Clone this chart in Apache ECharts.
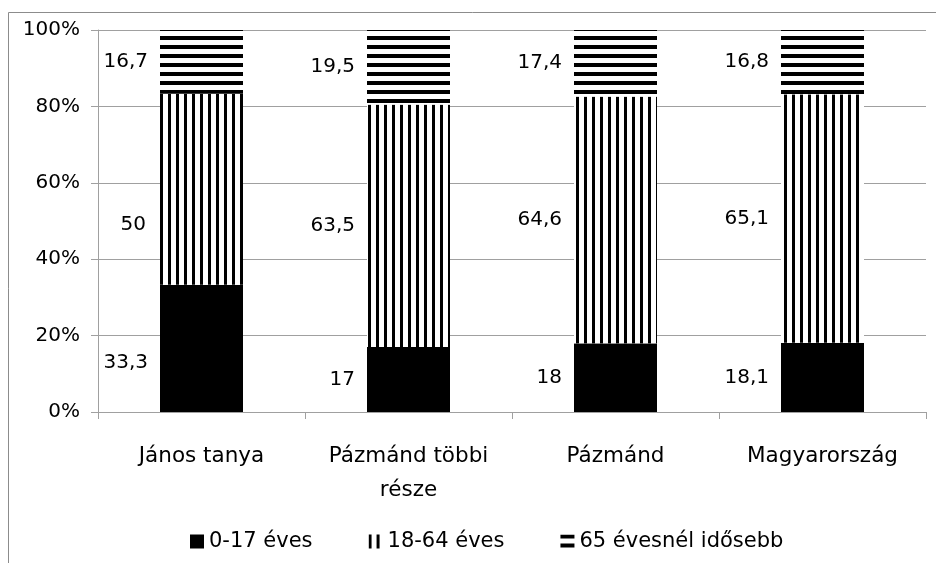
<!DOCTYPE html>
<html>
<head>
<meta charset="utf-8">
<script src="https://cdn.jsdelivr.net/npm/echarts@6/dist/echarts.min.js"></script>
<style>
html,body{margin:0;padding:0;background:#fff;}
#chart{width:936px;height:563px;}
</style>
</head>
<body>
<div id="chart"></div>
<script>
var categories = ['János tanya', 'Pázmánd többi\nrésze', 'Pázmánd', 'Magyarország'];
var seriesNames = ['0-17 éves', '18-64 éves', '65 évesnél idősebb'];
var young = [33.3, 17, 18, 18.1];
var working = [50, 63.5, 64.6, 65.1];
var old = [16.7, 19.5, 17.4, 16.8];
var yTicks = [0, 20, 40, 60, 80, 100];

var FONT = 'DejaVu Sans';
var FS = 20;

var chart = echarts.init(document.getElementById('chart'), null, {renderer: 'canvas'});

function fmt(p) {
  return String(p.value).replace('.', ',');
}

function labelCfg() {
  return {
    show: true,
    position: 'left',
    distance: 12,
    color: '#000',
    fontFamily: FONT,
    fontSize: FS,
    formatter: fmt
  };
}

// manual label nudges (as in the original, where some labels were moved by hand)
function withNudge(values, nudges) {
  return values.map(function (v, i) {
    if (nudges[i]) {
      return {value: v, label: {offset: nudges[i]}};
    }
    return v;
  });
}

var option = {
  animation: false,
  backgroundColor: '#fff',
  textStyle: {fontFamily: FONT, fontSize: FS, color: '#000'},
  graphic: [{
    type: 'rect',
    shape: {x: 8.5, y: 12.5, width: 1000, height: 1000},
    style: {fill: 'none', stroke: '#8c8c8c', lineWidth: 1},
    silent: true
  }],
  grid: {left: 98, right: 10, top: 30, bottom: 151, containLabel: false},
  legend: {
    bottom: 6,
    left: 185,
    itemWidth: 14,
    itemHeight: 14,
    itemGap: 56,
    icon: 'rect',
    textStyle: {fontFamily: FONT, fontSize: 21, color: '#000'},
    data: seriesNames
  },
  xAxis: {
    type: 'category',
    data: categories,
    boundaryGap: true,
    axisLine: {show: true, lineStyle: {color: '#a0a0a0', width: 1}},
    axisTick: {show: true, length: 7, lineStyle: {color: '#a0a0a0'}},
    axisLabel: {
      color: '#000', fontFamily: FONT, fontSize: 21.5, margin: 27, lineHeight: 34,
      interval: 0
    }
  },
  yAxis: {
    type: 'value',
    min: 0,
    max: 100,
    interval: 20,
    axisLine: {show: true, lineStyle: {color: '#a0a0a0', width: 1}},
    axisTick: {show: true, length: 7, lineStyle: {color: '#a0a0a0'}},
    splitLine: {show: true, lineStyle: {color: '#a0a0a0', width: 1}},
    axisLabel: {
      color: '#000', fontFamily: FONT, fontSize: FS, margin: 18,
      formatter: function (v) { return yTicks.indexOf(v) >= 0 ? v + '%' : ''; }
    }
  },
  series: [
    {
      name: seriesNames[0], type: 'bar', stack: 'total', barWidth: 83,
      data: withNudge(young, {0: [0, 14]}),
      itemStyle: {color: '#000'},
      label: labelCfg()
    },
    {
      name: seriesNames[1], type: 'bar', stack: 'total', barWidth: 83,
      data: withNudge(working, {0: [-2, 36]}),
      itemStyle: {
        color: '#fff',
        decal: {
          symbol: 'rect', symbolSize: 1, color: '#000', backgroundColor: '#fff',
          dashArrayX: [3, 4.5], dashArrayY: [10, 0], rotation: 0
        }
      },
      label: labelCfg()
    },
    {
      name: seriesNames[2], type: 'bar', stack: 'total', barWidth: 83,
      data: old,
      itemStyle: {
        color: '#fff',
        decal: {
          symbol: 'rect', symbolSize: 1, color: '#000', backgroundColor: '#fff',
          dashArrayX: [10, 0], dashArrayY: [3.5, 4.5], rotation: 0
        }
      },
      label: labelCfg()
    }
  ]
};
chart.setOption(option);
</script>
</body>
</html>
